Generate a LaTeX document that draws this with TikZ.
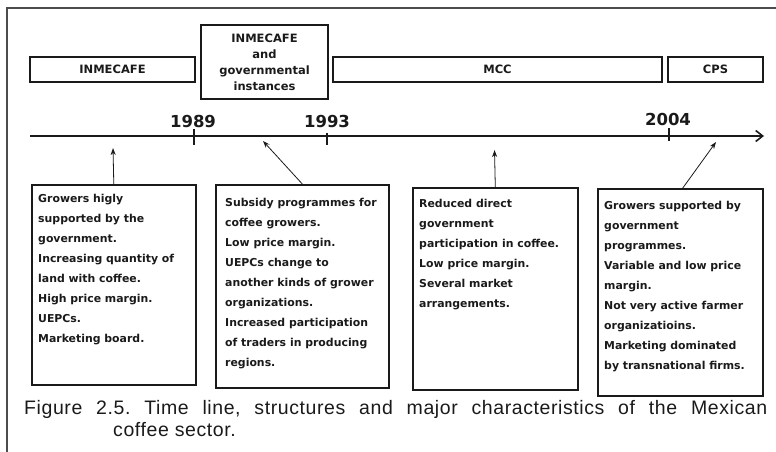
\documentclass[tikz,border=0pt]{standalone}
\usepackage{fontspec}
\setmainfont{DejaVu Sans}
\newfontfamily\capfont{Liberation Sans}[LetterSpace=3]
\usetikzlibrary{arrows.meta}
\definecolor{ink}{HTML}{1A1A1A}
\tikzset{
  x=1pt, y=-1pt,
  topbox/.style={draw=ink, line width=1.5pt, inner sep=0pt, font=\bfseries\fontsize{11.5}{16}\selectfont, text=ink, align=center},
  charbox/.style={draw=ink, line width=1.6pt, inner sep=0pt},
  chartext/.style={anchor=north west, inner sep=0pt, align=left, text=ink, font=\bfseries\fontsize{10.9}{20}\selectfont},
  yearlabel/.style={font=\bfseries\fontsize{16.5}{18}\selectfont, text=ink, inner sep=0pt},
  tick/.style={draw=ink, line width=1.4pt},
  pointer/.style={draw=ink, line width=0.8pt, -{Stealth[length=7pt,width=5pt]}},
}
\begin{document}
\begin{tikzpicture}
\useasboundingbox (0,0) rectangle (776,452);
% outer frame
\draw[line width=1.2pt, draw=black!70] (7,452) -- (7,8) -- (776,8);
% top structure boxes
\node[topbox, minimum width=165pt, minimum height=25pt] (inm) at (112.5,69.5) {INMECAFE};
\node[topbox, minimum width=127pt, minimum height=74pt] (gov) at (264.5,62) {INMECAFE\\and\\governmental\\instances};
\node[topbox, minimum width=329pt, minimum height=25pt] (mcc) at (497.5,69.5) {MCC};
\node[topbox, minimum width=95pt, minimum height=25pt] (cps) at (715.5,69.5) {CPS};
% timeline
\coordinate (tlstart) at (30,136);
\coordinate (tlend) at (764,136);
\draw[draw=ink, line width=1.8pt, -{Straight Barb[length=7pt,width=11pt,line width=1.6pt]}] (tlstart) -- (tlend);
\coordinate (t89a) at (194,129); \coordinate (t89b) at (194,145);
\coordinate (t93a) at (327,133); \coordinate (t93b) at (327,145);
\coordinate (t04a) at (669,128); \coordinate (t04b) at (669,141);
\draw[tick] (t89a) -- (t89b);
\draw[tick] (t93a) -- (t93b);
\draw[tick] (t04a) -- (t04b);
\node[yearlabel] (y89) at (193,121) {1989};
\node[yearlabel] (y93) at (327,121) {1993};
\node[yearlabel] (y04) at (668,119) {2004};
% characteristic boxes
\node[charbox, anchor=north west, minimum width=164pt, minimum height=200pt] (b1) at (31,184) {};
\node[charbox, anchor=north west, minimum width=173pt, minimum height=203pt] (b2) at (215,184) {};
\node[charbox, anchor=north west, minimum width=165pt, minimum height=202pt] (b3) at (412,187) {};
\node[charbox, anchor=north west, minimum width=165pt, minimum height=207pt] (b4) at (597,188) {};
\node[chartext] (t1) at ([xshift=7pt,yshift=-10pt]b1.north west) {Growers higly\\supported by the\\government.\\Increasing quantity of\\land with coffee.\\High price margin.\\UEPCs.\\Marketing board.};
\node[chartext] (t2) at ([xshift=10pt,yshift=-14pt]b2.north west) {Subsidy programmes for\\coffee growers.\\Low price margin.\\UEPCs change to\\another kinds of grower\\organizations.\\Increased participation\\of traders in producing\\regions.};
\node[chartext] (t3) at ([xshift=7pt,yshift=-12pt]b3.north west) {Reduced direct\\government\\participation in coffee.\\Low price margin.\\Several market\\arrangements.};
\node[chartext] (t4) at ([xshift=7pt,yshift=-13pt]b4.north west) {Growers supported by\\government\\programmes.\\Variable and low price\\margin.\\Not very active farmer\\organizatioins.\\Marketing dominated\\by transnational firms.};
% pointers
\coordinate (p1) at (113,148);
\coordinate (p2) at (263,141);
\coordinate (p3) at (494.5,150);
\coordinate (p4) at (716,142);
\draw[pointer] (b1.north) -- (p1);
\draw[pointer] (b2.north) -- (p2);
\draw[pointer] (b3.north) -- (p3);
\draw[pointer] ([xshift=2.5pt]b4.north) -- (p4);
% caption
\node[anchor=north west, inner sep=0pt, align=left, text=ink,
      font=\capfont\fontsize{19.5}{22}\selectfont\frenchspacing] (cap) at (24,400)
  {\makebox[743pt][s]{Figure 2.5. Time line, structures and major characteristics of the Mexican}\\\hspace*{89pt}coffee sector.};
\end{tikzpicture}
\end{document}
